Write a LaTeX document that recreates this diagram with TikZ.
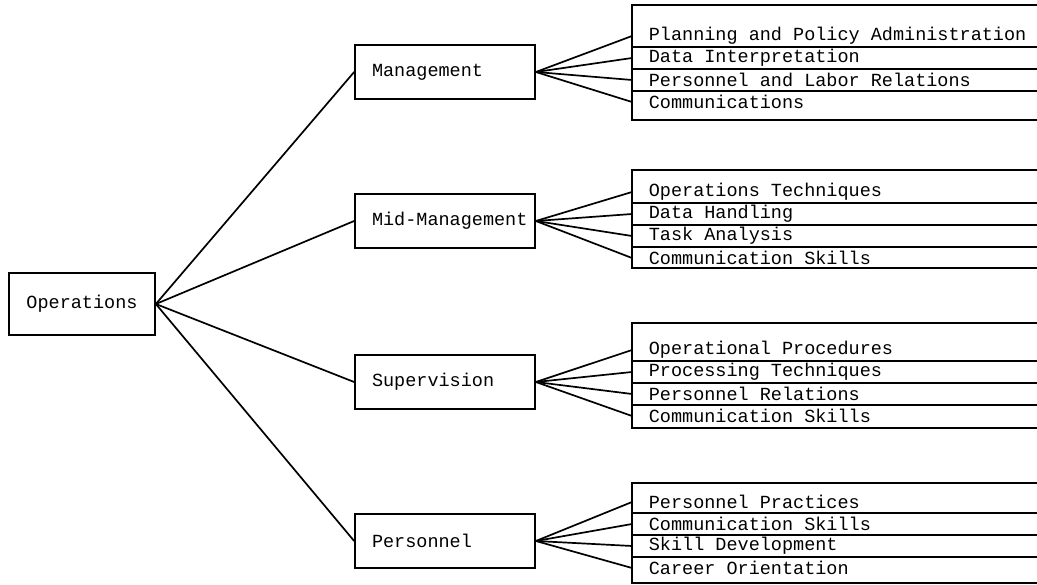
\documentclass[tikz,border=0pt]{standalone}
\usepackage{fontspec}
\setmonofont{Liberation Mono}
\newcommand\tsz{\fontsize{18.5}{20}\selectfont\ttfamily}

\begin{document}
\begin{tikzpicture}[x=1pt,y=-1pt,line width=1.7pt,
  box/.style={draw,rectangle,inner sep=0pt,font=\tsz},
  mid/.style={box,minimum height=54pt,text width=146pt,inner xsep=17pt,align=left},
  item/.style={inner xsep=16pt,inner ysep=0pt,anchor=west,font=\tsz}]
\useasboundingbox (0,0) rectangle (1037,585);
\node[box,minimum width=146pt,minimum height=62pt] (ops) at (82,304) {Operations};
\node[mid] (mgmt) at (445,72) {Management};
\node[mid] (midm) at (445,221) {Mid-Management};
\node[mid] (supv) at (445,382) {Supervision};
\node[mid] (pers) at (445,541) {Personnel};
\foreach\b in {mgmt,midm,supv,pers} \draw (ops.east) -- (\b.west);
% four lists, one per level
\foreach\b/\c/\t/\u/\i/\ii/\iii/\iv in {
  mgmt/36/5/120/Planning and Policy Administration/Data Interpretation/Personnel and Labor Relations/Communications,
  midm/192/170/268/Operations Techniques/Data Handling/Task Analysis/Communication Skills,
  supv/350/323/428/Operational Procedures/Processing Techniques/Personnel Relations/Communication Skills,
  pers/502/483/583/Personnel Practices/Communication Skills/Skill Development/Career Orientation}{
\node[item] (\b1) at (632,\c) {\i};
\node[item] (\b2) at (632,\c+22) {\ii};
\node[item] (\b3) at (632,\c+44) {\iii};
\node[item] (\b4) at (632,\c+66) {\iv};
\draw (1037,\t) -- (632,\t) -- (632,\u) -- (1037,\u);
\foreach\k in {0,1,2} \draw (632,\c+11+22*\k) -- (1037,\c+11+22*\k);
\foreach\k in {1,...,4} \draw (\b.east) -- (\b\k.west);
}
\end{tikzpicture}
\end{document}
